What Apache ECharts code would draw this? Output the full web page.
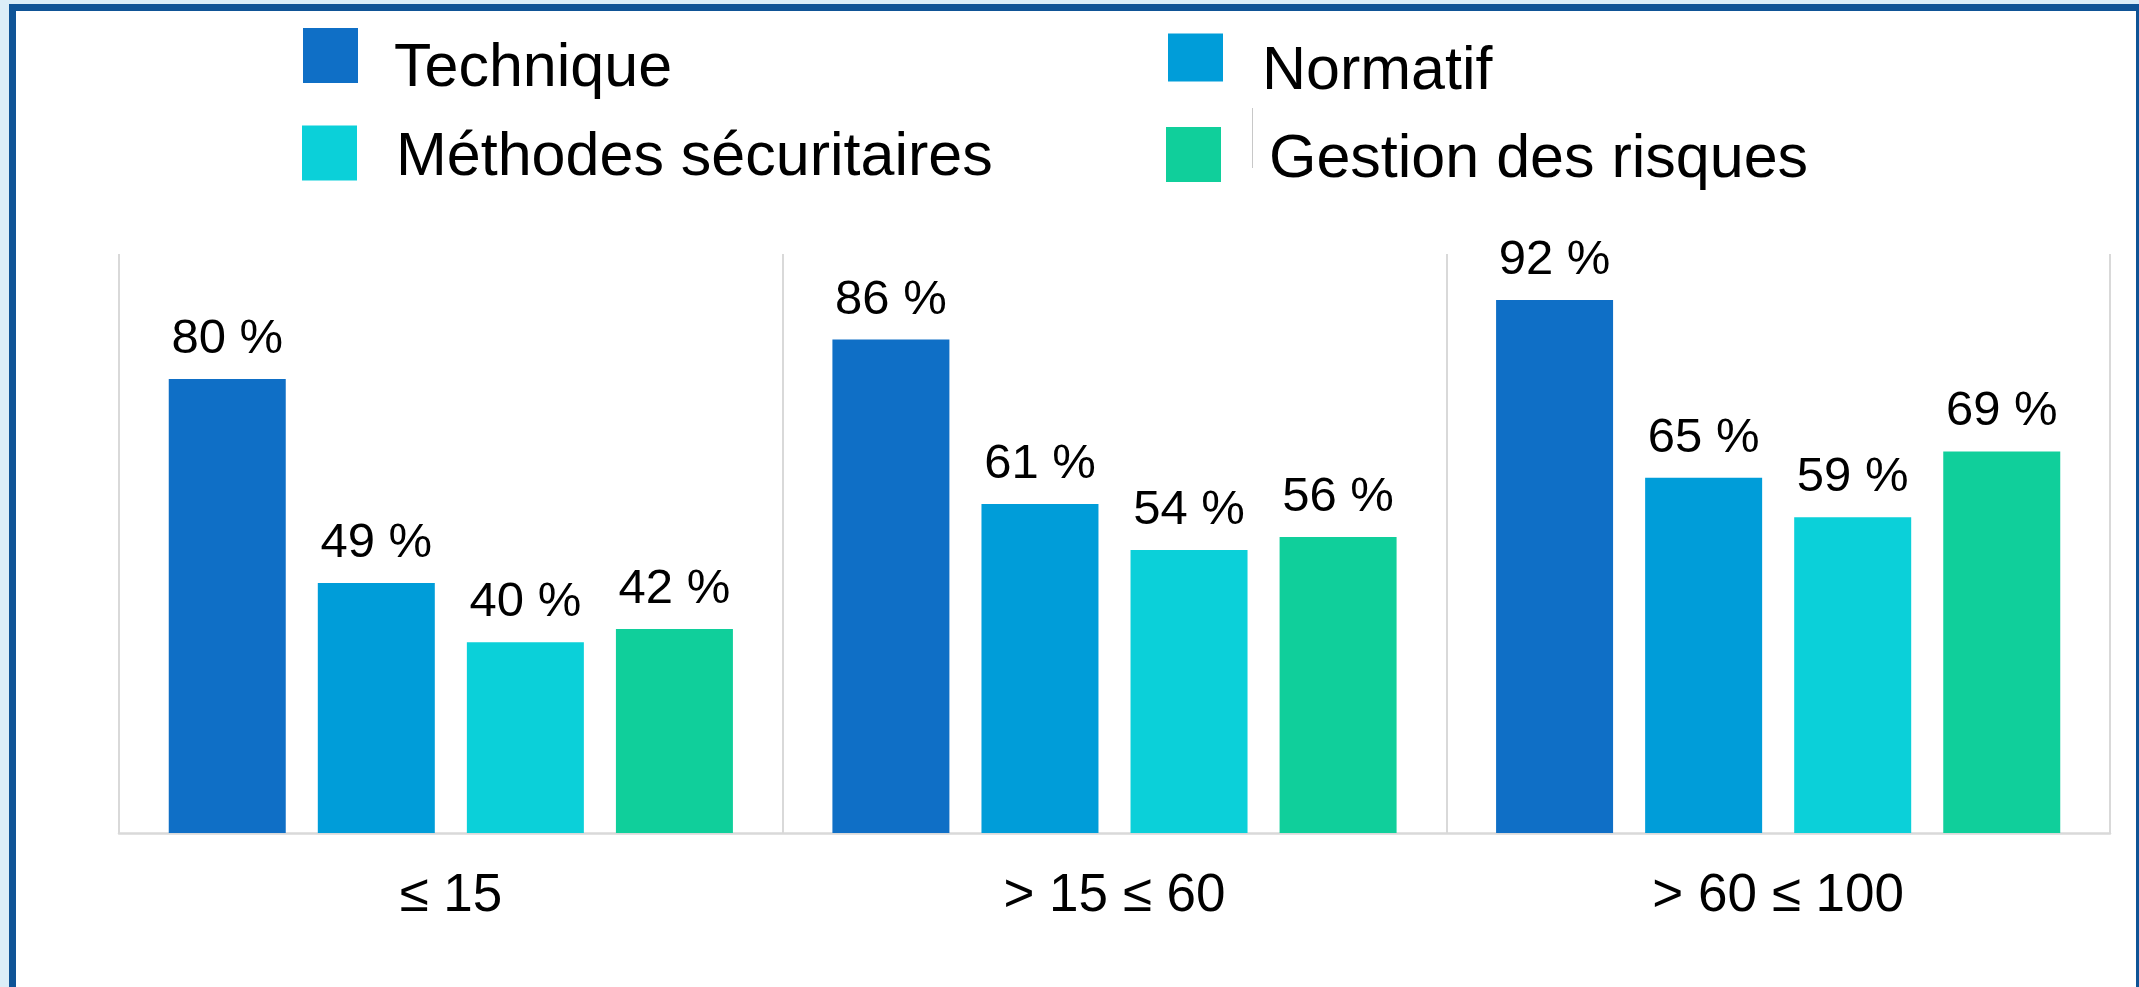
<!DOCTYPE html>
<html>
<head>
<meta charset="utf-8">
<script src="https://cdn.jsdelivr.net/npm/echarts@6/dist/echarts.min.js"></script>
<style>
  html, body { margin: 0; padding: 0; width: 2139px; height: 987px; overflow: hidden; background: #dbeef8; }
  #frame { position: absolute; left: 9px; top: 4px; right: -4px; bottom: -20px; background: #ffffff;
           border: 7px solid #0f5496; box-sizing: border-box; }
  #chart { position: absolute; left: 0; top: 0; width: 2139px; height: 987px; }
</style>
</head>
<body>
<div id="frame"></div>
<div id="chart"></div>
<script>
const categories = ['\u2264 15', '> 15 \u2264 60', '> 60 \u2264 100'];
const seriesNames = ['Technique', 'Normatif', 'M\u00e9thodes s\u00e9curitaires', 'Gestion des risques'];
const technique = [80, 86, 92];
const normatif = [49, 61, 65];
const methodes = [40, 54, 59];
const gestion = [42, 56, 69];
const colors = ['#0f6fc6', '#009dd9', '#0bd0d9', '#10cf9b'];

const values = [technique, normatif, methodes, gestion];
const FONT = '"Liberation Sans", Arial, sans-serif';

const chart = echarts.init(document.getElementById('chart'), null, { renderer: 'canvas' });

function makeLegend(name, left, top, spacer, padLeft, iconH) {
  return {
    data: [name],
    left: left, top: top,
    orient: 'vertical',
    itemWidth: 55, itemHeight: iconH || 55, itemGap: 0,
    padding: 0,
    icon: 'rect',
    selectedMode: false,
    formatter: function (n) { return '{gap| }\n{t|' + n + '}'; },
    textStyle: {
      fontFamily: FONT, fontSize: 61, color: '#000',
      rich: {
        gap: { fontSize: 1, lineHeight: spacer, height: spacer },
        t: { fontFamily: FONT, fontSize: 61, lineHeight: 61, color: '#000', padding: [0, 0, 0, padLeft] }
      }
    },
    itemStyle: { borderWidth: 0 }
  };
}

const option = {
  backgroundColor: 'transparent',
  animation: false,
  color: colors,
  legend: [
    makeLegend(seriesNames[0], 303, 11, 28, 31),
    makeLegend(seriesNames[2], 302, 117, 11, 34),
    makeLegend(seriesNames[1], 1168, 12, 30, 34, 48),
    makeLegend(seriesNames[3], 1166, 118, 12, 43)
  ],
  grid: { left: 119, right: 29, top: 254, bottom: 154, containLabel: false },
  xAxis: {
    type: 'category',
    data: categories,
    boundaryGap: true,
    axisLine: { show: true, lineStyle: { color: '#d9d9d9', width: 2.5 } },
    axisTick: { show: false },
    splitLine: { show: true, lineStyle: { color: '#d9d9d9', width: 2 } },
    axisLabel: { fontFamily: FONT, fontSize: 53, color: '#000', margin: 37 }
  },
  yAxis: {
    type: 'value',
    min: 11, max: 99,
    show: false,
    splitLine: { show: false }
  },
  series: seriesNames.map((name, i) => ({
    name: name,
    type: 'bar',
    data: values[i],
    barWidth: 117,
    barGap: '27.4%',
    itemStyle: { color: colors[i] },
    label: {
      show: true,
      position: 'top',
      distance: 15,
      formatter: '{c} %',
      fontFamily: FONT,
      fontSize: 49,
      color: '#000'
    }
  })),
  graphic: [
    { type: 'line', shape: { x1: 1252.5, y1: 108, x2: 1252.5, y2: 168 }, style: { stroke: '#c8c8c8', lineWidth: 1 }, silent: true }
  ]
};

chart.setOption(option);
</script>
</body>
</html>
